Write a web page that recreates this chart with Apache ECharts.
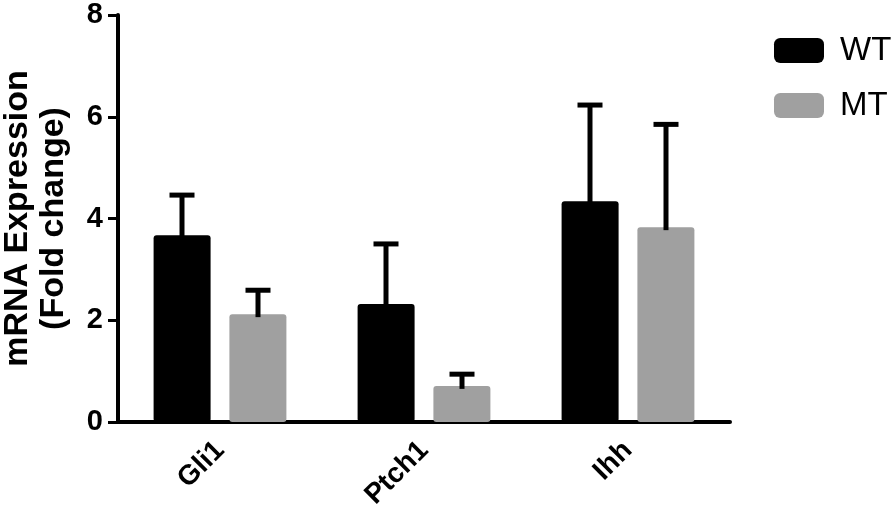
<!DOCTYPE html>
<html>
<head>
<meta charset="utf-8">
<script src="https://cdn.jsdelivr.net/npm/echarts@6/dist/echarts.min.js"></script>
<style>
  html, body { margin: 0; padding: 0; background: #fff; }
  #b { width: 894px; height: 516px; }
</style>
</head>
<body>
<div id="b"></div>
<script>
var genes = ['Gli1', 'Ptch1', 'Ihh'];
var wtMean = [3.67, 2.32, 4.34];
var wtUpper = [4.46, 3.50, 6.23];
var mtMean = [2.12, 0.71, 3.83];
var mtUpper = [2.59, 0.94, 5.85];
var yTicks = [0, 2, 4, 6, 8];

var font = 'Liberation Sans, Arial, Helvetica, sans-serif';

function errData(mean, upper) {
  return mean.map(function (m, i) { return [i, m, upper[i]]; });
}

// error bar: stem + cap, shifted off the category center to sit on its bar
function errItem(offset) {
  return function (params, api) {
    var i = api.value(0);
    var lo = api.coord([i, api.value(1)]);
    var hi = api.coord([i, api.value(2)]);
    var x = lo[0] + offset;
    return {
      type: 'group',
      children: [
        { type: 'line', shape: { x1: x, y1: lo[1] + 3, x2: x, y2: hi[1] }, style: { stroke: '#000', lineWidth: 5 } },
        { type: 'line', shape: { x1: x - 12.5, y1: hi[1], x2: x + 12.5, y2: hi[1] }, style: { stroke: '#000', lineWidth: 5 } }
      ]
    };
  };
}

var myChart = echarts.init(document.getElementById('b'));
var option = {
  animation: false,
  backgroundColor: '#fff',
  grid: { left: 118, right: 164, top: 15, bottom: 94, containLabel: false, outerBoundsMode: 'none' },
  legend: {
    data: ['WT', 'MT'],
    orient: 'vertical',
    left: 769,
    top: 29,
    icon: 'roundRect',
    itemWidth: 50,
    itemHeight: 25,
    itemGap: 22,
    textStyle: { fontFamily: font, fontSize: 33, color: '#000', lineHeight: 25, padding: [0, 0, 0, 11] }
  },
  xAxis: {
    type: 'category',
    data: genes,
    axisLine: { lineStyle: { color: '#000', width: 4 } },
    axisTick: { alignWithLabel: true, length: 10, lineStyle: { color: '#000', width: 3 } },
    axisLabel: { rotate: 45, margin: 24, fontFamily: font, fontWeight: 'bold', fontSize: 28, color: '#000' }
  },
  yAxis: {
    type: 'value',
    min: yTicks[0],
    max: yTicks[yTicks.length - 1],
    interval: 2,
    name: 'mRNA Expression\n(Fold change)',
    nameLocation: 'middle',
    nameRotate: 90,
    nameGap: 46,
    nameTextStyle: { fontFamily: font, fontWeight: 'bold', fontSize: 34, lineHeight: 36, color: '#000' },
    splitLine: { show: false },
    axisLine: { show: true, lineStyle: { color: '#000', width: 4 } },
    axisTick: { show: true, length: 10, lineStyle: { color: '#000', width: 3 } },
    axisLabel: { margin: 15, fontFamily: font, fontWeight: 'bold', fontSize: 29, color: '#000' }
  },
  series: [
    {
      name: 'WT',
      type: 'bar',
      data: wtMean,
      barWidth: 57,
      barGap: '33%',
      itemStyle: { color: '#000000', borderRadius: 3 }
    },
    {
      name: 'MT',
      type: 'bar',
      data: mtMean,
      barWidth: 57,
      itemStyle: { color: '#a0a0a0', borderRadius: 3 }
    },
    {
      type: 'custom',
      renderItem: errItem(-38),
      data: errData(wtMean, wtUpper),
      encode: { x: 0, y: [1, 2] },
      z: 5
    },
    {
      type: 'custom',
      renderItem: errItem(38),
      data: errData(mtMean, mtUpper),
      encode: { x: 0, y: [1, 2] },
      z: 5
    }
  ]
};
option && myChart.setOption(option);
window.addEventListener('resize', function () {
  myChart.resize();
});
</script>
</body>
</html>
